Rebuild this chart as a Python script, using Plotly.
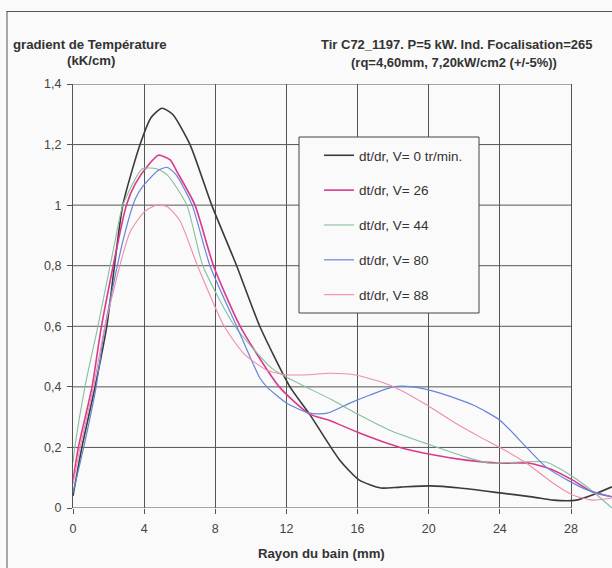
import plotly.graph_objects as go

# ---- data ----
r_v0 = [0, 0.5, 1.24, 1.9, 2.8, 3.77, 4.4, 5.0, 5.6, 6.58, 7.8, 9.2, 10.5, 12.2, 13.3, 15.0, 16.1, 17.3, 18.4, 20.1, 21.75, 24.0, 25.9, 27.0, 28.3, 29.2, 30.3]
v_v0 = [0.04, 0.2, 0.4, 0.6, 1.0, 1.2, 1.29, 1.32, 1.30, 1.2, 1.0, 0.8, 0.6, 0.4, 0.31, 0.158, 0.092, 0.066, 0.069, 0.073, 0.066, 0.05, 0.036, 0.026, 0.026, 0.043, 0.07]

r_v26 = [0, 0.3, 1.07, 1.6, 3.0, 3.5, 4.2, 4.8, 5.45, 5.9, 6.86, 7.9, 9.4, 11.6, 13.3, 14.4, 16.0, 18.4, 20.3, 22.1, 24.0, 25.7, 27.0, 28.1, 29.2, 30.3]
v_v26 = [0.09, 0.2, 0.4, 0.6, 1.0, 1.07, 1.13, 1.165, 1.15, 1.105, 1.0, 0.8, 0.6, 0.4, 0.31, 0.29, 0.25, 0.2, 0.175, 0.158, 0.148, 0.148, 0.125, 0.092, 0.053, 0.037]

r_v44 = [0, 0.1, 0.67, 1.4, 2.36, 2.8, 3.9, 4.7, 5.3, 6.4, 7.3, 9.1, 11.2, 12.4, 14.6, 16.0, 17.8, 20.1, 22.1, 23.4, 25.1, 26.6, 27.8, 28.9, 30.3]
v_v44 = [0.15, 0.2, 0.4, 0.6, 0.88, 1.0, 1.12, 1.12, 1.1, 1.0, 0.8, 0.6, 0.46, 0.42, 0.356, 0.31, 0.257, 0.208, 0.168, 0.148, 0.152, 0.152, 0.115, 0.07, 0.0]

r_v80 = [0, 0.6, 1.3, 1.8, 2.8, 3.5, 3.9, 4.8, 5.3, 5.8, 6.7, 7.7, 9.2, 10.5, 10.9, 12.0, 13.3, 14.3, 15.6, 16.7, 18.0, 19.1, 20.6, 22.5, 24.0, 25.5, 26.6, 27.8, 28.9, 30.3]
v_v80 = [0.05, 0.2, 0.4, 0.6, 0.88, 1.02, 1.06, 1.115, 1.125, 1.1, 1.0, 0.8, 0.6, 0.43, 0.4, 0.347, 0.313, 0.313, 0.347, 0.373, 0.4, 0.4, 0.38, 0.34, 0.29, 0.2, 0.135, 0.092, 0.06, 0.037]

r_v88 = [0, 0.4, 1.15, 1.8, 3.2, 4.05, 4.7, 5.3, 6.0, 7.0, 8.5, 9.6, 10.9, 12.0, 13.3, 14.4, 15.8, 17.3, 18.4, 19.9, 21.4, 22.9, 24.0, 25.5, 27.0, 28.1, 29.2, 30.3]
v_v88 = [0.08, 0.2, 0.4, 0.6, 0.91, 0.98, 1.0, 0.995, 0.95, 0.8, 0.6, 0.51, 0.455, 0.44, 0.44, 0.445, 0.44, 0.417, 0.39, 0.34, 0.284, 0.234, 0.2, 0.148, 0.082, 0.043, 0.026, 0.033]

names = ["dt/dr, V= 0 tr/min.", "dt/dr, V= 26", "dt/dr, V= 44", "dt/dr, V= 80", "dt/dr, V= 88"]
xs = [r_v0, r_v26, r_v44, r_v80, r_v88]
ys = [v_v0, v_v26, v_v44, v_v80, v_v88]

x_ticks = [0, 4, 8, 12, 16, 20, 24, 28]
y_ticks = [0, 0.2, 0.4, 0.6, 0.8, 1.0, 1.2, 1.4]
y_tick_text = ["0", "0,2", "0,4", "0,6", "0,8", "1", "1,2", "1,4"]

# ---- style ----
colors = ["#3a3a3a", "#d93a8c", "#86bf9c", "#6485d8", "#f08cab"]
widths = [1.6, 1.6, 1.1, 1.2, 1.1]
FONT = "Liberation Sans, Arial, sans-serif"
GRID = "#555555"
BG = "#fafafa"

W, H = 612, 568
ML, MR, MT, MB = 73, 0, 84, H - 508
XMAX = 28 * (W - ML - MR) / (571 - 73)


def px_x(p):
    return (p - ML) / (W - ML - MR)


def px_y(p):
    return (H - MB - p) / (H - MT - MB)


fig = go.Figure()
for i in range(5):
    fig.add_trace(go.Scatter(
        x=xs[i], y=ys[i], mode="lines", name=names[i],
        line=dict(color=colors[i], width=widths[i], shape="spline", smoothing=0.6),
        legendgroup=str(i),
    ))

shapes = []
for yv in y_ticks:
    shapes.append(dict(type="line", xref="x", yref="y", x0=0, x1=28, y0=yv, y1=yv,
                       line=dict(color=GRID, width=1), layer="below"))
# outer chart border (left and top edges visible)
shapes.append(dict(type="rect", xref="paper", yref="paper",
                   x0=px_x(6.5), x1=px_x(7.5), y0=px_y(570), y1=px_y(11),
                   fillcolor="#555555", line=dict(width=0), layer="above"))
shapes.append(dict(type="rect", xref="paper", yref="paper",
                   x0=px_x(6.5), x1=px_x(612), y0=px_y(12), y1=px_y(11),
                   fillcolor="#555555", line=dict(width=0), layer="above"))
# legend frame
shapes.append(dict(type="rect", xref="paper", yref="paper",
                   x0=px_x(299), x1=px_x(479), y0=px_y(313), y1=px_y(137),
                   fillcolor=BG, line=dict(color="#444444", width=1), layer="above"))


def ann(text, x, y, size):
    return dict(text="<b>%s</b>" % text, x=px_x(x), y=px_y(y), xref="paper", yref="paper",
                showarrow=False, xanchor="center", yanchor="middle",
                font=dict(family=FONT, size=size, color="#333"))


annotations = [
    ann("gradient de Température", 90, 45, 13.2),
    ann("(kK/cm)", 91, 61, 13.2),
    ann("Tir C72_1197. P=5 kW. Ind. Focalisation=265", 456, 45, 13),
    ann("(rq=4,60mm, 7,20kW/cm2 (+/-5%))", 454, 62, 13),
    ann("Rayon du bain (mm)", 321, 553, 13.2),
]

fig.update_layout(
    width=W, height=H,
    margin=dict(l=ML, r=MR, t=MT, b=MB, pad=0),
    paper_bgcolor=BG, plot_bgcolor=BG,
    font=dict(family=FONT, size=12, color="#333"),
    shapes=shapes, annotations=annotations,
    showlegend=True,
    legend=dict(
        x=px_x(319), y=px_y(140), xanchor="left", yanchor="top",
        bgcolor="rgba(0,0,0,0)", borderwidth=0,
        font=dict(family=FONT, size=13.5, color="#333"),
        tracegroupgap=14.3, itemwidth=30,
    ),
    xaxis=dict(range=[0, XMAX], tickvals=x_ticks, ticktext=[str(t) for t in x_ticks],
               showgrid=True, gridcolor=GRID, gridwidth=1, zeroline=False, showline=False,
               ticks="outside", ticklen=5, tickcolor=GRID, ticklabelstandoff=4,
               tickfont=dict(size=12.5, color="#444")),
    yaxis=dict(range=[0, 1.4], tickvals=y_ticks, ticktext=y_tick_text,
               showgrid=False, zeroline=False, showline=True, linecolor=GRID, linewidth=1,
               ticks="outside", ticklen=5, tickcolor=GRID, ticklabelstandoff=3,
               tickfont=dict(size=12.5, color="#444")),
)

fig.write_html("out.html", config={"displayModeBar": False},
               post_script="document.body.style.margin='0';document.body.style.overflow='hidden';")
